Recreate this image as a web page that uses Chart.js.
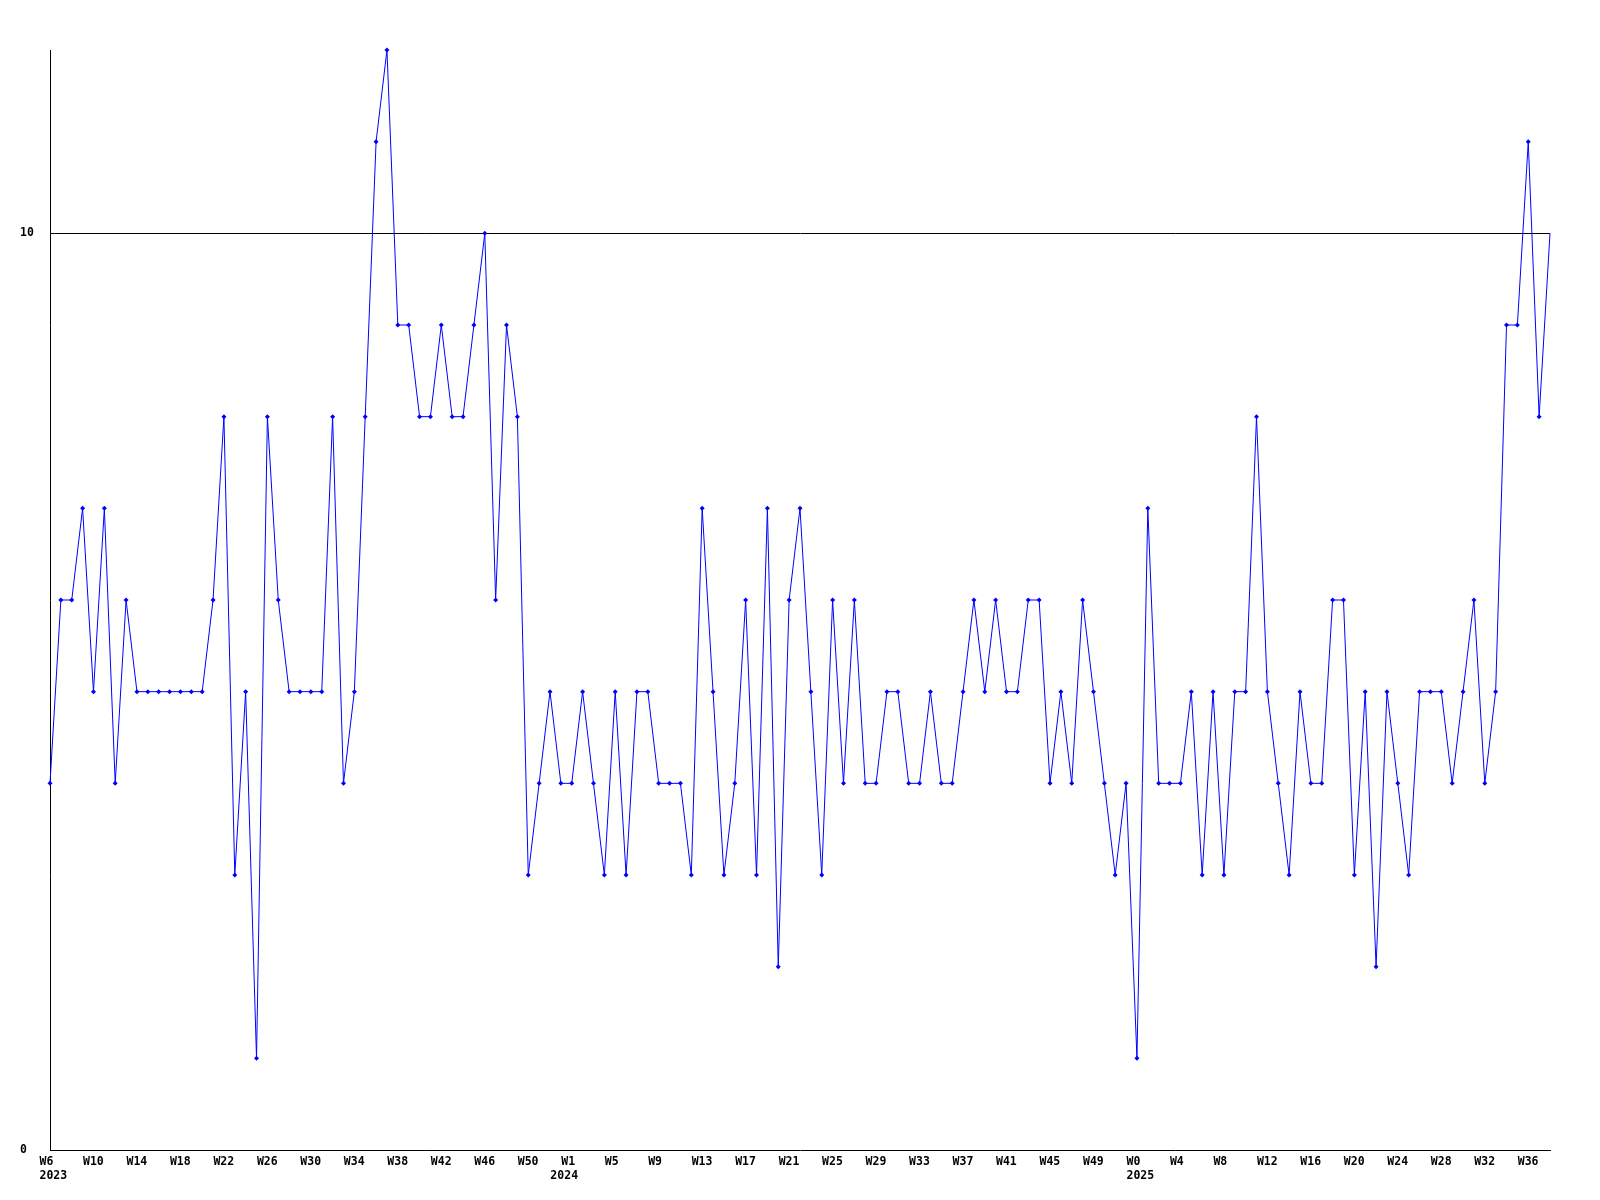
<!DOCTYPE html>
<html>
<head>
<meta charset="utf-8">
<script src="https://cdn.jsdelivr.net/npm/chart.js@4/dist/chart.umd.min.js"></script>
<style>
  html, body { margin: 0; padding: 0; background: #ffffff; }
  #wrap { width: 1600px; height: 1200px; }
</style>
</head>
<body>
<div id="wrap"><canvas id="c" width="1600" height="1200"></canvas></div>
<script>
// ---- data ----
const years = ['2023', '2024', '2025'];
const weeks2023 = [6,7,8,9,10,11,12,13,14,15,16,17,18,19,20,21,22,23,24,25,26,27,28,29,30,31,32,33,34,35,36,37,38,39,40,41,42,43,44,45,46,47,48,49,50,51,52];
const weeks2024 = [0,1,2,3,4,5,6,7,8,9,10,11,12,13,14,15,16,17,18,19,20,21,22,23,24,25,26,27,28,29,30,31,32,33,34,35,36,37,38,39,40,41,42,43,44,45,46,47,48,49,50,51,52];
const weeks2025 = [0,1,2,3,4,5,6,7,8,9,10,11,12,13,14,15,16,17,18,19,20,21,22,23,24,25,26,27,28,29,30,31,32,33,34,35,36,37,38];
const values2023 = [4,6,6,7,5,7,4,6,5,5, 5,5,5,5,5,6,8,3,5,1, 8,6,5,5,5,5,8,4,5,8, 11,12,9,9,8,8,9,8,8,9, 10,6,9,8,3,4,5];
const values2024 = [4, 4,5,4,3,5,3,5,5,4,4, 4,3,7,5,3,4,6,3,7,2, 6,7,5,3,6,4,6,4,4,5, 5,4,4,5,4,4,5,6,5,6, 5,5,6,6,4,5,4,6,5,4, 3,4];
const values2025 = [1,7,4,4,4,5,3,5,3,5, 5,8,5,4,3,5,4,4,6,6, 3,5,2,5,4,3,5,5,5,4, 5,6,4,5,9,9,11,8,10];
const yTickValues = [0, 10];
const labelEvery = 4;

// ---- build categories ----
const weekGroups = [weeks2023, weeks2024, weeks2025];
const labels = [];
const yearStart = {};
weekGroups.forEach((wk, gi) => {
  yearStart[labels.length] = years[gi];
  wk.forEach(w => labels.push('W' + w));
});
const values = values2023.concat(values2024, values2025);
const lastIndex = values.length - 1;

const FONT = { family: "'DejaVu Sans Mono', 'Liberation Mono', monospace", size: 11.5, weight: 'bold' };

new Chart(document.getElementById('c'), {
  type: 'line',
  data: {
    labels: labels,
    datasets: [{
      data: values,
      borderColor: '#0000ff',
      backgroundColor: '#0000ff',
      borderWidth: 1,
      tension: 0,
      fill: false,
      pointStyle: 'rectRot',
      pointRadius: (ctx) => ctx.dataIndex === lastIndex ? 0 : 2.5,
      pointBorderWidth: 0,
      pointBackgroundColor: '#0000ff',
      clip: false
    }]
  },
  options: {
    responsive: false,
    devicePixelRatio: 1,
    animation: false,
    events: [],
    layout: { padding: { top: 50, left: 20, right: 50, bottom: 0 } },
    plugins: { legend: { display: false }, tooltip: { enabled: false }, title: { display: false } },
    scales: {
      x: {
        type: 'category',
        offset: false,
        grid: { display: false, drawTicks: false },
        border: { display: true, color: '#000000', width: 1 },
        afterFit: (s) => { s.height = 50; },
        ticks: {
          autoSkip: false,
          maxRotation: 0,
          minRotation: 0,
          align: 'start',
          labelOffset: -10.5,
          padding: 5,
          color: '#000000',
          font: FONT,
          callback: function (val, idx) {
            const week = (idx % labelEvery === 0) ? labels[idx] : '';
            const year = yearStart[idx] || '';
            if (!year) return week;
            return [week, year];
          }
        }
      },
      y: {
        min: 0,
        max: 12,
        afterBuildTicks: (s) => { s.ticks = yTickValues.map(v => ({ value: v })); },
        afterFit: (s) => { s.width = 30; },
        grid: {
          drawTicks: false,
          color: (ctx) => (ctx.tick && ctx.tick.value === 10) ? '#000000' : 'rgba(0,0,0,0)',
          lineWidth: 1
        },
        border: { display: true, color: '#000000', width: 1 },
        ticks: {
          crossAlign: 'far',
          padding: 3,
          color: '#000000',
          font: FONT
        }
      }
    }
  }
});
</script>
</body>
</html>
